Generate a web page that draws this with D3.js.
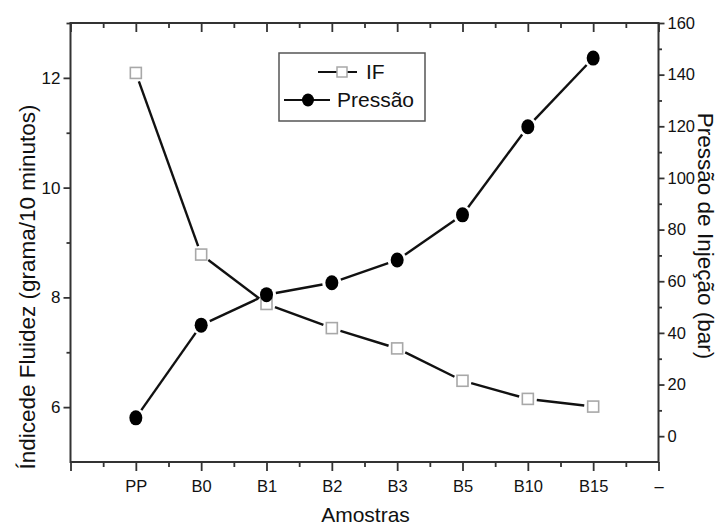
<!DOCTYPE html>
<html>
<head>
<meta charset="utf-8">
<script src="https://cdn.jsdelivr.net/npm/d3@7"></script>
<style>
  body { margin: 0; background: #fff; }
  svg { display: block; font-family: "Liberation Sans", Arial, sans-serif; }
</style>
</head>
<body>
<svg id="chart" width="723" height="528"></svg>
<script>
const categories = ["PP", "B0", "B1", "B2", "B3", "B5", "B10", "B15"];
const ifValues = [12.09, 8.78, 7.88, 7.44, 7.07, 6.48, 6.15, 6.01];
const pressaoValues = [7.1, 43, 54.8, 59.4, 68.2, 85.7, 119.8, 146.4];
const xTickLabels = ["", "PP", "B0", "B1", "B2", "B3", "B5", "B10", "B15", "–"];
const leftTicks = [6, 8, 10, 12];
const leftMinorTicks = [7, 9, 11, 13];
const rightTicks = [0, 20, 40, 60, 80, 100, 120, 140, 160];
const rightMinorTicks = [10, 30, 50, 70, 90, 110, 130, 150];
const seriesNames = ["IF", "Pressão"];

const svg = d3.select("#chart");
const L = 70.5, R = 658.5, T = 23, B = 462;
const axisColor = "#333";

const x = d3.scaleLinear().domain([0, 9]).range([L, R]);
const yL = d3.scaleLinear().domain([5, 13]).range([B, T]);
const yR = d3.scaleLinear().domain([-10, 160]).range([B, T]);

const majorX = d3.range(0, 10);
const minorX = d3.range(0.5, 9, 1);

function styleAxis(g, fs) {
  g.selectAll(".domain").remove();
  g.selectAll(".tick line").attr("stroke", axisColor).attr("stroke-width", 1.8);
  g.selectAll(".tick text").attr("fill", "#111").style("font-size", fs + "px")
   .style("font-family", "'Liberation Sans', Arial, sans-serif");
}

// bottom axis
const gB = svg.append("g").attr("transform", `translate(0,${B})`)
  .call(d3.axisBottom(x).tickValues(majorX).tickSize(9).tickPadding(9)
    .tickFormat(d => xTickLabels[d]));
styleAxis(gB, 16.5);
const gBm = svg.append("g").attr("transform", `translate(0,${B})`)
  .call(d3.axisBottom(x).tickValues(minorX).tickSize(5).tickFormat(""));
styleAxis(gBm, 16);

// top axis (ticks inward)
const gT = svg.append("g").attr("transform", `translate(0,${T})`)
  .call(d3.axisBottom(x).tickValues(majorX).tickSize(9).tickFormat(""));
styleAxis(gT, 16);
const gTm = svg.append("g").attr("transform", `translate(0,${T})`)
  .call(d3.axisBottom(x).tickValues(minorX).tickSize(5).tickFormat(""));
styleAxis(gTm, 16);

// left axis
const gL = svg.append("g").attr("transform", `translate(${L},0)`)
  .call(d3.axisLeft(yL).tickValues(leftTicks).tickSize(7).tickPadding(3).tickFormat(d3.format("d")));
styleAxis(gL, 17);
const gLm = svg.append("g").attr("transform", `translate(${L},0)`)
  .call(d3.axisLeft(yL).tickValues(leftMinorTicks).tickSize(4).tickFormat(""));
styleAxis(gLm, 16);

// right axis
const gR = svg.append("g").attr("transform", `translate(${R},0)`)
  .call(d3.axisRight(yR).tickValues(rightTicks).tickSize(6).tickPadding(3).tickFormat(d3.format("d")));
styleAxis(gR, 16.5);
const gRm = svg.append("g").attr("transform", `translate(${R},0)`)
  .call(d3.axisRight(yR).tickValues(rightMinorTicks).tickSize(3.5).tickFormat(""));
styleAxis(gRm, 16);

// frame
svg.append("rect").attr("x", L).attr("y", T).attr("width", R - L).attr("height", B - T)
  .attr("fill", "none").attr("stroke", axisColor).attr("stroke-width", 2);

// axis titles
svg.append("text").attr("transform", `translate(${(L + R) / 2 + 1},522)`)
  .attr("text-anchor", "middle").style("font-size", "21px").attr("fill", "#111").text("Amostras");
svg.append("text").attr("transform", `translate(35,287) rotate(-90)`)
  .attr("text-anchor", "middle").style("font-size", "22.5px").attr("fill", "#111")
  .text("Índicede Fluidez (grama/10 minutos)");
svg.append("text").attr("transform", `translate(698,236) rotate(90)`)
  .attr("text-anchor", "middle").style("font-size", "22.5px").attr("fill", "#111")
  .text("Pressão de Injeção (bar)");

// series lines with gaps at markers
function gappedSegments(pts, gap) {
  const segs = [];
  for (let i = 0; i < pts.length - 1; i++) {
    const [x0, y0] = pts[i], [x1, y1] = pts[i + 1];
    const dx = x1 - x0, dy = y1 - y0, len = Math.hypot(dx, dy);
    const ux = dx / len, uy = dy / len;
    segs.push([[x0 + ux * gap, y0 + uy * gap], [x1 - ux * gap, y1 - uy * gap]]);
  }
  return segs;
}
const line = d3.line();

const ifPts = ifValues.map((v, i) => [x(i + 1), yL(v)]);
const prPts = pressaoValues.map((v, i) => [x(i + 1), yR(v)]);

svg.append("g").selectAll("path").data(gappedSegments(ifPts, 9)).join("path")
  .attr("d", line).attr("stroke", "#111").attr("stroke-width", 2.4).attr("fill", "none");
svg.append("g").selectAll("path").data(gappedSegments(prPts, 9.5)).join("path")
  .attr("d", line).attr("stroke", "#111").attr("stroke-width", 2.4).attr("fill", "none");

const sq = 11;
svg.append("g").selectAll("rect").data(ifPts).join("rect")
  .attr("x", d => d[0] - sq / 2).attr("y", d => d[1] - sq / 2)
  .attr("width", sq).attr("height", sq)
  .attr("fill", "#fff").attr("stroke", "#a8a8a8").attr("stroke-width", 1.6);

svg.append("g").selectAll("ellipse").data(prPts).join("ellipse")
  .attr("cx", d => d[0]).attr("cy", d => d[1]).attr("rx", 6.5).attr("ry", 7.5)
  .attr("fill", "#000");

// legend
const lg = svg.append("g");
lg.append("rect").attr("x", 279).attr("y", 53).attr("width", 146).attr("height", 68)
  .attr("fill", "#fff").attr("stroke", "#555").attr("stroke-width", 1.5);
lg.append("line").attr("x1", 318).attr("x2", 357).attr("y1", 72).attr("y2", 72)
  .attr("stroke", "#111").attr("stroke-width", 2);
lg.append("rect").attr("x", 342 - 5).attr("y", 72 - 5).attr("width", 10).attr("height", 10)
  .attr("fill", "#fff").attr("stroke", "#a8a8a8").attr("stroke-width", 1.5);
lg.append("text").attr("x", 366).attr("y", 79).style("font-size", "21px").attr("fill", "#111").text(seriesNames[0]);
lg.append("line").attr("x1", 284).attr("x2", 330).attr("y1", 100).attr("y2", 100)
  .attr("stroke", "#111").attr("stroke-width", 2);
lg.append("ellipse").attr("cx", 308).attr("cy", 100).attr("rx", 6).attr("ry", 6.5).attr("fill", "#000");
lg.append("text").attr("x", 337).attr("y", 107).style("font-size", "21px").attr("fill", "#111").text(seriesNames[1]);
</script>
</body>
</html>
